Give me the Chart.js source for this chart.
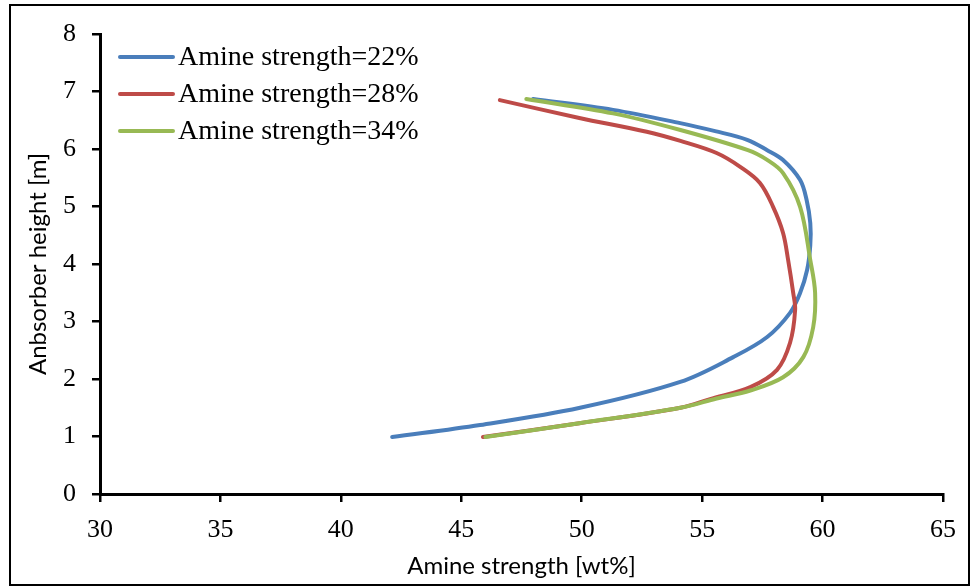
<!DOCTYPE html>
<html>
<head>
<meta charset="utf-8">
<script src="https://cdn.jsdelivr.net/npm/chart.js@4"></script>
<style>
    body { margin: 0; background: #fff; }
    #wrap { position: absolute; left: 0; top: 0; width: 972px; height: 587px; }
    #frame { position: absolute; left: 9px; top: 4px; width: 957px; height: 578px; border: 2.5px solid #000; pointer-events: none; }
</style>
</head>
<body>
<div id="wrap"><canvas id="profileChart"></canvas></div>
<div id="frame"></div>
<script>
// amine strength [wt%] along the absorber height [m]
const labels = ['Amine strength=22%', 'Amine strength=28%', 'Amine strength=34%'];
const colors = ['#4A7EBB', '#BE4B48', '#98B954'];

const strength22 = [42.13, 45.78, 49.93, 54.09, 56.29, 57.7, 58.65, 59.07, 59.36, 59.49, 59.49, 59.34, 59.07, 58.36, 57.7, 56.87, 55.54, 54.09, 51.3, 47.98];
const height22 = [0.99, 1.2, 1.5, 1.95, 2.38, 2.73, 3.15, 3.5, 3.9, 4.33, 4.71, 5.11, 5.46, 5.81, 5.98, 6.16, 6.31, 6.45, 6.68, 6.87];

const strength28 = [45.9, 49.9, 54.1, 55.33, 57.0, 58.11, 58.65, 58.86, 58.78, 58.57, 58.36, 57.95, 57.4, 56.58, 55.6, 54.1, 52.7, 49.9, 46.6];
const height28 = [0.99, 1.23, 1.5, 1.65, 1.86, 2.16, 2.63, 3.2, 3.5, 4.07, 4.54, 4.99, 5.41, 5.69, 5.93, 6.14, 6.3, 6.54, 6.85];

const strength34 = [46.0, 49.9, 54.1, 55.6, 57.0, 58.36, 59.2, 59.61, 59.69, 59.49, 59.07, 58.36, 57.7, 56.9, 54.1, 51.3, 47.7];
const height34 = [0.99, 1.23, 1.5, 1.66, 1.8, 2.03, 2.38, 2.9, 3.5, 4.07, 4.99, 5.58, 5.81, 5.98, 6.33, 6.62, 6.87];

const xTicks = [30, 35, 40, 45, 50, 55, 60, 65];
const yTicks = [0, 1, 2, 3, 4, 5, 6, 7, 8];

function toPoints(xs, ys) {
    return xs.map((x, i) => ({ x: x, y: ys[i] }));
}

const series = [
    toPoints(strength22, height22),
    toPoints(strength28, height28),
    toPoints(strength34, height34)
];

// legend drawn inside the plot, top left
const insideLegend = {
    id: 'insideLegend',
    afterDraw(chart) {
        const ctx = chart.ctx;
        const left = chart.chartArea.left;
        const top = chart.chartArea.top;
        ctx.save();
        ctx.font = '28px "Liberation Serif", "Times New Roman", serif';
        ctx.textBaseline = 'middle';
        chart.data.datasets.forEach((ds, i) => {
            const y = top + 23 + i * 37;
            ctx.strokeStyle = ds.borderColor;
            ctx.lineWidth = 4;
            ctx.lineCap = 'round';
            ctx.beginPath();
            ctx.moveTo(left + 20, y);
            ctx.lineTo(left + 73, y);
            ctx.stroke();
            ctx.fillStyle = '#000';
            ctx.fillText(ds.label, left + 78, y + 1);
        });
        ctx.restore();
    }
};

const tickFont = { family: '"Liberation Serif", "Times New Roman", serif', size: 26 };
const titleFont = { family: 'Lato, "Open Sans", sans-serif', size: 24 };

const profileChart = new Chart(document.getElementById('profileChart'), {
    type: 'scatter',
    data: {
        datasets: series.map((pts, i) => ({
            label: labels[i],
            data: pts,
            showLine: true,
            borderColor: colors[i],
            backgroundColor: colors[i],
            borderWidth: 4,
            borderCapStyle: 'round',
            borderJoinStyle: 'round',
            pointRadius: 0,
            tension: 0.35,
            order: 3 - i
        }))
    },
    options: {
        responsive: true,
        maintainAspectRatio: false,
        animation: false,
        layout: { padding: { top: 34, right: 29, left: 0, bottom: 0 } },
        plugins: {
            legend: { display: false },
            tooltip: { enabled: false }
        },
        scales: {
            x: {
                type: 'linear',
                min: 30,
                max: 65,
                afterFit: s => { s.height = 93; },
                afterBuildTicks: s => { s.ticks = xTicks.map(v => ({ value: v })); },
                grid: { drawOnChartArea: false, color: '#000', lineWidth: 2.5, tickLength: 8 },
                border: { display: true, color: '#000', width: 3 },
                ticks: { color: '#000', font: tickFont, padding: 13, maxRotation: 0 },
                title: { display: true, text: 'Amine strength [wt%]', color: '#000', font: titleFont, padding: { top: 0, bottom: 6 } }
            },
            y: {
                type: 'linear',
                min: 0,
                max: 8,
                afterFit: s => { s.width = 100; },
                afterBuildTicks: s => { s.ticks = yTicks.map(v => ({ value: v })); },
                grid: { drawOnChartArea: false, color: '#000', lineWidth: 2.5, tickLength: 8 },
                border: { display: true, color: '#000', width: 3 },
                ticks: { color: '#000', font: tickFont, padding: 16 },
                title: { display: true, text: 'Anbsorber height [m]', color: '#000', font: titleFont, padding: { top: 24, bottom: 0 } }
            }
        }
    },
    plugins: [insideLegend]
});
</script>
</body>
</html>
